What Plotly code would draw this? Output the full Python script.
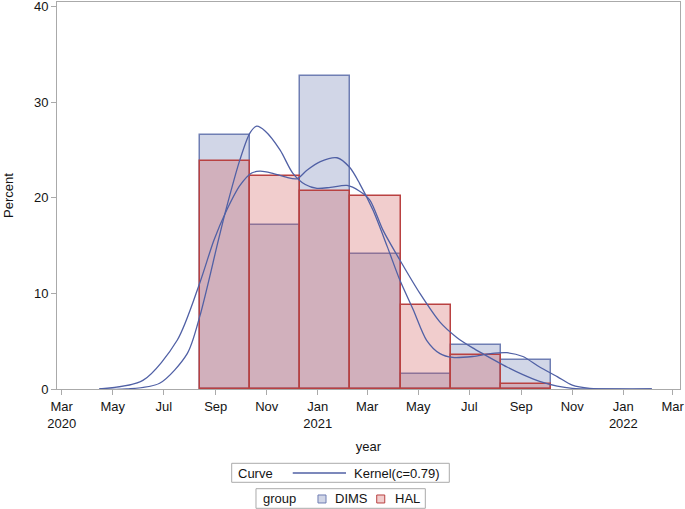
import plotly.graph_objects as go

# ---- data ----
bin_mid = ["2020-09-12", "2020-11-11", "2021-01-10", "2021-03-11",
           "2021-05-10", "2021-07-09", "2021-09-07"]
bin_days = 60
dims_pct = [26.6, 17.2, 32.8, 14.1, 1.6, 4.6, 3.0]
hal_pct = [23.9, 22.3, 20.7, 20.2, 8.8, 3.6, 0.5]

dims_kx = ["2020-04-15", "2020-06-06", "2020-07-17", "2020-08-13", "2020-08-30",
           "2020-09-13", "2020-09-30", "2020-10-14", "2020-10-24", "2020-11-07",
           "2020-11-23", "2020-12-07", "2020-12-19", "2021-01-04", "2021-01-24",
           "2021-02-08", "2021-02-20", "2021-03-08", "2021-03-25", "2021-04-09",
           "2021-04-25", "2021-05-11", "2021-05-27", "2021-06-11", "2021-07-05",
           "2021-07-26", "2021-08-15", "2021-09-03", "2021-09-23", "2021-10-14",
           "2021-11-01", "2021-11-22", "2021-12-28", "2022-02-04"]
dims_ky = [0.0, 0.9, 5.1, 11.1, 15.6,
           18.5, 21.3, 22.6, 22.8, 22.6,
           22.2, 22.0, 22.9, 23.8, 24.2,
           23.2, 21.5, 18.7, 14.9, 11.4,
           8.3, 5.1, 3.7, 3.3, 3.4,
           3.7, 3.8, 3.4, 2.3, 1.3,
           0.4, 0.07, 0.0, 0.0]

hal_kx = ["2020-04-15", "2020-05-18", "2020-06-26", "2020-07-29", "2020-08-13",
          "2020-09-04", "2020-09-14", "2020-09-30", "2020-10-12", "2020-10-20",
          "2020-10-30", "2020-11-17", "2020-12-02", "2020-12-17", "2020-12-31",
          "2021-01-16", "2021-02-05", "2021-02-20", "2021-03-04", "2021-03-20",
          "2021-04-09", "2021-05-03", "2021-05-27", "2021-06-16", "2021-07-05",
          "2021-07-17", "2021-08-15", "2021-09-03", "2021-09-23", "2021-10-14",
          "2021-11-01", "2021-12-04", "2022-02-04"]
hal_ky = [0.0, 0.0, 0.6, 3.7, 7.6,
          15.5, 19.0, 24.0, 26.8, 27.5,
          27.0, 25.0, 22.6, 21.4, 21.0,
          21.1, 21.3, 20.7, 19.8, 16.6,
          13.5, 10.0, 7.0, 5.4, 4.3,
          3.7, 2.3, 1.5, 0.8, 0.3,
          0.07, 0.0, 0.0]

tick_dates = ["2020-03-01", "2020-05-01", "2020-07-01", "2020-09-01", "2020-11-01",
              "2021-01-01", "2021-03-01", "2021-05-01", "2021-07-01", "2021-09-01",
              "2021-11-01", "2022-01-01", "2022-03-01"]
tick_text = ["Mar<br>2020", "May", "Jul", "Sep", "Nov", "Jan<br>2021", "Mar",
             "May", "Jul", "Sep", "Nov", "Jan<br>2022", "Mar"]
y_ticks = [0, 10, 20, 30, 40]

group_names = ["DIMS", "HAL"]
curve_label = "Kernel(c=0.79)"

# ---- styles ----
BLUE = "rgb(111,126,179)"
RED = "rgb(185,65,65)"
BLUE_FILL = "rgba(111,126,179,0.32)"
RED_FILL = "rgba(208,91,91,0.30)"
CURVE = "rgb(80,96,165)"
AXIS = "rgb(170,170,170)"
TXT = "rgb(20,20,20)"
FONT = "Liberation Sans, Arial, sans-serif"
FS = 13

width_ms = bin_days * 24 * 3600 * 1000

fig = go.Figure()
fig.add_trace(go.Bar(
    x=bin_mid, y=dims_pct, width=width_ms, name=group_names[0],
    marker=dict(color=BLUE_FILL, line=dict(color=BLUE, width=1.5)),
    showlegend=False, hoverinfo="skip"))
fig.add_trace(go.Bar(
    x=bin_mid, y=hal_pct, width=width_ms, name=group_names[1],
    marker=dict(color=RED_FILL, line=dict(color=RED, width=1.5)),
    showlegend=False, hoverinfo="skip"))
for kx, ky in ((dims_kx, dims_ky), (hal_kx, hal_ky)):
    fig.add_trace(go.Scatter(
        x=kx, y=ky, mode="lines", name=curve_label, showlegend=False,
        line=dict(color=CURVE, width=1.3, shape="spline", smoothing=0.8),
        hoverinfo="skip"))

# ---- legends (drawn in paper coordinates) ----
shapes = []
annots = []


def box(x0, x1, y0, y1):
    shapes.append(dict(type="rect", xref="paper", yref="paper",
                       x0=x0, x1=x1, y0=y0, y1=y1,
                       line=dict(color=AXIS, width=1), fillcolor="white"))


def text(x, y, s):
    annots.append(dict(xref="paper", yref="paper", x=x, y=y, text=s,
                       showarrow=False, xanchor="left", yanchor="middle",
                       font=dict(size=FS, color=TXT, family=FONT)))


# Curve legend
box(0.2804, 0.6297, -0.2411, -0.1920)
text(0.2870, -0.2171, "Curve")
shapes.append(dict(type="line", xref="paper", yref="paper",
                   x0=0.3784, x1=0.4639, y0=-0.2171, y1=-0.2171,
                   line=dict(color=CURVE, width=1.3)))
text(0.4740, -0.2171, curve_label)

# group legend
box(0.3194, 0.5912, -0.3083, -0.2576)
text(0.3272, -0.2829, "group")
shapes.append(dict(type="rect", xref="paper", yref="paper",
                   x0=0.4189, x1=0.4318, y0=-0.2945, y1=-0.2739,
                   line=dict(color=BLUE, width=1), fillcolor=BLUE_FILL))
text(0.4430, -0.2829, group_names[0])
shapes.append(dict(type="rect", xref="paper", yref="paper",
                   x0=0.5132, x1=0.5261, y0=-0.2945, y1=-0.2739,
                   line=dict(color=RED, width=1), fillcolor=RED_FILL))
text(0.5395, -0.2829, group_names[1])

fig.update_layout(
    width=685, height=509,
    margin=dict(l=57, r=5, t=2, b=120, autoexpand=False),
    paper_bgcolor="white", plot_bgcolor="white",
    barmode="overlay", bargap=0,
    showlegend=False,
    font=dict(family=FONT, size=FS, color=TXT),
    shapes=shapes, annotations=annots,
    xaxis=dict(
        type="date", automargin=False, ticklabeloverflow="allow",
        range=["2020-02-24 10:00", "2022-03-09 17:00"],
        tickvals=tick_dates, ticktext=tick_text,
        ticks="outside", ticklen=5, tickcolor=AXIS,
        showline=True, linecolor=AXIS, linewidth=1, mirror=True,
        showgrid=False, zeroline=False,
        title=dict(text="year", standoff=12, font=dict(size=FS)),
    ),
    yaxis=dict(
        automargin=False, ticklabeloverflow="allow",
        range=[0, 40.5], tickvals=y_ticks,
        ticks="outside", ticklen=5, tickcolor=AXIS,
        showline=True, linecolor=AXIS, linewidth=1, mirror=True,
        showgrid=False, zeroline=False,
        title=dict(text="Percent", standoff=17, font=dict(size=FS)),
    ),
)

fig.write_html("out.html",
               config={"displayModeBar": False},
               post_script="document.body.style.margin='0';"
                           "document.body.style.overflow='hidden';")
